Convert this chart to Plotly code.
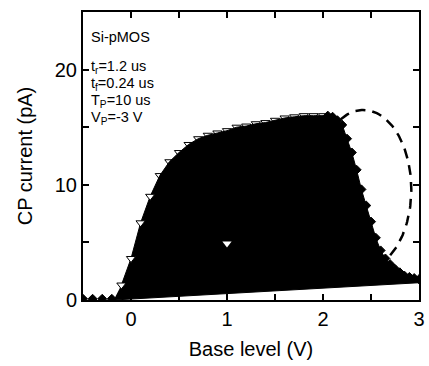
import numpy as np
import plotly.graph_objects as go

# ---- data ----
up_x = [-0.1, 0.0, 0.1, 0.2, 0.3, 0.4, 0.5, 0.6, 0.7, 0.8, 0.9, 1.0,
        1.1, 1.2, 1.3, 1.4, 1.5, 1.6, 1.7, 1.8, 1.9, 2.0]
up_y = [1.3, 3.6, 6.7, 9.0, 10.8, 12.0, 12.8, 13.5, 14.0, 14.3, 14.5, 14.7,
        15.0, 15.1, 15.3, 15.4, 15.6, 15.8, 15.9, 16.0, 16.0, 16.0]

down_x = [2.05, 2.1, 2.15, 2.2, 2.25, 2.3, 2.35, 2.4, 2.45, 2.5, 2.55, 2.6,
          2.65, 2.7, 2.75, 2.8, 2.85, 2.9, 2.95, 3.0]
down_y = [16.0, 15.9, 15.6, 15.2, 14.0, 12.8, 11.3, 9.6, 8.2, 6.8, 5.4, 4.3,
          3.6, 3.1, 2.7, 2.4, 2.1, 2.0, 1.9, 1.8]

left_x = [-0.5, -0.4, -0.3, -0.2]
left_y = [0.1, 0.1, 0.1, 0.1]

base_x = [-0.18, 3.0]
base_y = [0.0, 1.5]

outlier_x = [1.0]
outlier_y = [4.9]

# dashed ellipse guide (center, radii, arc angles in degrees)
ell_c = (2.42, 9.6)
ell_r = (0.5, 6.9)
ell_ang = (118, -64)

FONT = "Liberation Sans, Arial, sans-serif"

fig = go.Figure()

# markers on the top edge (partly hidden under the fill)
n_rise = 4
fig.add_trace(go.Scatter(
    x=up_x[n_rise:], y=up_y[n_rise:], mode="markers",
    marker=dict(symbol="triangle-down", size=8, color="white",
                line=dict(color="black", width=1)),
    showlegend=False, hoverinfo="skip"))

# black filled loop
poly_x = up_x + down_x + base_x[::-1]
poly_y = up_y + down_y + base_y[::-1]
fig.add_trace(go.Scatter(
    x=poly_x, y=poly_y, mode="lines", fill="toself",
    fillcolor="black", line=dict(color="black", width=1),
    showlegend=False, hoverinfo="skip"))

# rising-edge markers (on top)
fig.add_trace(go.Scatter(
    x=up_x[:n_rise], y=up_y[:n_rise], mode="markers",
    marker=dict(symbol="triangle-down", size=8, color="white",
                line=dict(color="black", width=1)),
    showlegend=False, hoverinfo="skip"))

fig.add_trace(go.Scatter(
    x=outlier_x, y=outlier_y, mode="markers",
    marker=dict(symbol="triangle-down", size=8, color="white",
                line=dict(color="white", width=0)),
    showlegend=False, hoverinfo="skip"))

# diamonds
fig.add_trace(go.Scatter(
    x=left_x + down_x, y=left_y + down_y, mode="markers",
    marker=dict(symbol="diamond", size=7, color="black",
                line=dict(color="black", width=1)),
    showlegend=False, hoverinfo="skip"))

# dashed ellipse
t = np.radians(np.linspace(ell_ang[0], ell_ang[1], 120))
fig.add_trace(go.Scatter(
    x=ell_c[0] + ell_r[0] * np.cos(t), y=ell_c[1] + ell_r[1] * np.sin(t),
    mode="lines", line=dict(color="black", width=2.5, dash="10px,7px"),
    showlegend=False, hoverinfo="skip"))

# text block
lines = ["Si-pMOS", "t<sub>r</sub>=1.2 us", "t<sub>f</sub>=0.24 us",
         "T<sub>P</sub>=10 us", "V<sub>P</sub>=-3 V"]
ys = [37, 67, 84, 101, 118]
for txt, yy in zip(lines, ys):
    fig.add_annotation(text=txt, xref="paper", yref="paper",
                       x=(89 - 83) / 342, y=(300 - yy) / 288,
                       xanchor="left", yanchor="middle", showarrow=False,
                       font=dict(family=FONT, size=14.5, color="black"))

axis_common = dict(showline=True, linecolor="black", linewidth=2,
                   mirror="ticks", ticks="inside", ticklen=6, tickwidth=1.5,
                   tickcolor="black", showgrid=False, zeroline=False,
                   tickfont=dict(family=FONT, size=20, color="black"))

fig.update_xaxes(range=[-0.5, 3], tickvals=[0, 1, 2, 3],
                 minor=dict(tickvals=[-0.5, 0.5, 1.5, 2.5], ticks="inside",
                            ticklen=6, tickwidth=1.5, tickcolor="black"),
                 title=dict(text="Base level (V)", standoff=13,
                            font=dict(family=FONT, size=20, color="black")),
                 **axis_common)
fig.update_yaxes(range=[0, 25], tickvals=[0, 10, 20],
                 minor=dict(tickvals=[5, 15], ticks="inside",
                            ticklen=6, tickwidth=1.5, tickcolor="black"),
                 title=dict(text="CP current (pA)", standoff=17,
                            font=dict(family=FONT, size=20, color="black")),
                 **axis_common)

fig.update_layout(width=429, height=366,
                  margin=dict(l=83, r=4, t=12, b=66),
                  paper_bgcolor="white", plot_bgcolor="white")

fig.write_html("out.html")
